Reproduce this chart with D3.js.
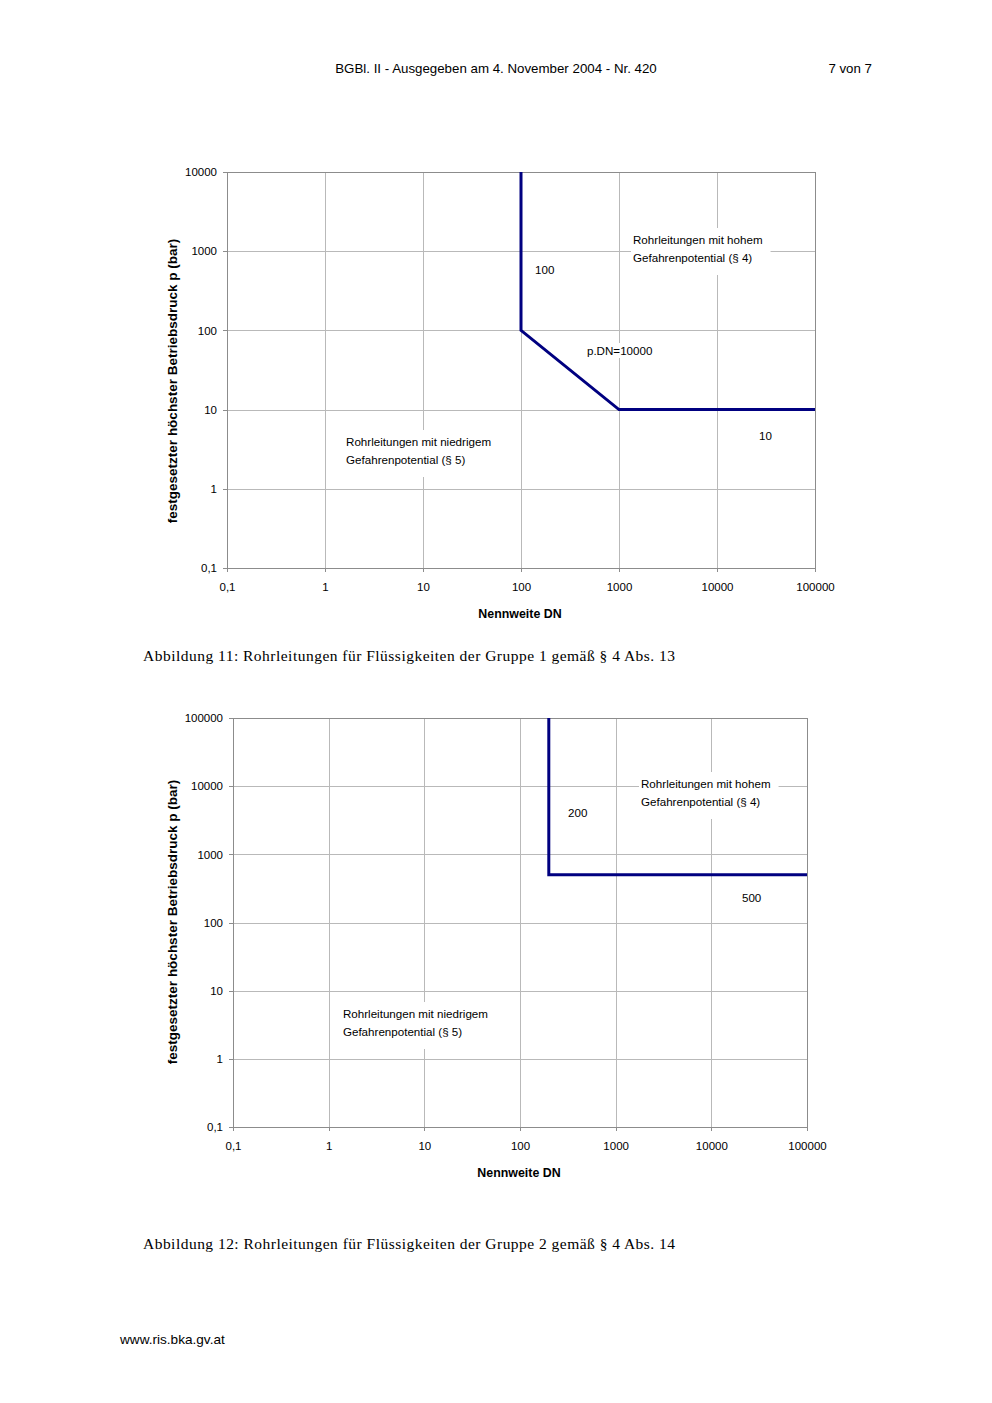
<!DOCTYPE html>
<html>
<head>
<meta charset="utf-8">
<script src="https://cdn.jsdelivr.net/npm/d3@7/dist/d3.min.js"></script>
<style>
  body { margin: 0; background: #fff; }
  svg { display: block; }
  .sans { font-family: "Liberation Sans", Arial, sans-serif; }
  .serif { font-family: "Liberation Serif", "Times New Roman", serif; }
  .axis path, .axis line { stroke: #8c8c8c; shape-rendering: crispEdges; }
  .grid line { stroke: #b9b9b9; shape-rendering: crispEdges; }
  .grid path { stroke: none; }
</style>
</head>
<body>
<script>
// ---- data ----
var dnTicks = [0.1, 1, 10, 100, 1000, 10000, 100000],
    dnTickLabels = ["0,1", "1", "10", "100", "1000", "10000", "100000"];

var pTicks1 = [0.1, 1, 10, 100, 1000, 10000],
    pTickLabels1 = ["0,1", "1", "10", "100", "1000", "10000"],
    limitDN1 = [100, 100, 1000, 100000],
    limitP1 = [10000, 100, 10, 10];

var pTicks2 = [0.1, 1, 10, 100, 1000, 10000, 100000],
    pTickLabels2 = ["0,1", "1", "10", "100", "1000", "10000", "100000"],
    limitDN2 = [200, 200, 100000],
    limitP2 = [100000, 500, 500];

// annotation text, anchored at (dn, p) of the first line's left baseline
var notes1 = [
    { lines: ["100"], dn: 139, p: 515 },
    { lines: ["Rohrleitungen mit hohem", "Gefahrenpotential (§ 4)"], dn: 1390, p: 1233 },
    { lines: ["p.DN=10000"], dn: 471, p: 48.9 },
    { lines: ["10"], dn: 26850, p: 4.13 },
    { lines: ["Rohrleitungen mit niedrigem", "Gefahrenpotential (§ 5)"], dn: 1.64, p: 3.47 }
];
var notes2 = [
    { lines: ["200"], dn: 318, p: 3530 },
    { lines: ["Rohrleitungen mit hohem", "Gefahrenpotential (§ 4)"], dn: 1840, p: 9400 },
    { lines: ["500"], dn: 20900, p: 200 },
    { lines: ["Rohrleitungen mit niedrigem", "Gefahrenpotential (§ 5)"], dn: 1.41, p: 3.97 }
];

var yTitle = "festgesetzter höchster Betriebsdruck p (bar)",
    xTitle = "Nennweite DN";

var svg = d3.select("body").append("svg")
    .attr("width", 992)
    .attr("height", 1403);

// page header / footer
svg.append("text").attr("class", "sans")
    .attr("x", 496).attr("y", 73)
    .attr("text-anchor", "middle").attr("font-size", 13.3)
    .text("BGBl. II - Ausgegeben am 4. November 2004 - Nr. 420");
svg.append("text").attr("class", "sans")
    .attr("x", 872).attr("y", 73)
    .attr("text-anchor", "end").attr("font-size", 13.3)
    .text("7 von 7");
svg.append("text").attr("class", "sans")
    .attr("x", 120).attr("y", 1344)
    .attr("font-size", 13.6)
    .text("www.ris.bka.gv.at");

function drawChart(box, pTicks, pLabels, dn, p, notes, caption) {
    var x = d3.scaleLog().domain([0.1, 100000]).range([box.left, box.right]),
        y = d3.scaleLog().domain([0.1, pTicks[pTicks.length - 1]]).range([box.bottom, box.top]),
        w = box.right - box.left,
        h = box.bottom - box.top,
        g = svg.append("g").attr("class", "sans");

    // gridlines
    g.append("g").attr("class", "grid")
        .attr("transform", "translate(0," + box.bottom + ")")
        .call(d3.axisBottom(x).tickValues(dnTicks).tickSize(-h).tickFormat(""));
    g.append("g").attr("class", "grid")
        .attr("transform", "translate(" + box.left + ",0)")
        .call(d3.axisLeft(y).tickValues(pTicks).tickSize(-w).tickFormat(""));

    // axes
    var xa = g.append("g").attr("class", "axis")
        .attr("transform", "translate(0," + box.bottom + ")")
        .call(d3.axisBottom(x).tickValues(dnTicks).tickSizeInner(4).tickSizeOuter(0)
            .tickPadding(11).tickFormat(function (d, i) { return dnTickLabels[i]; }));
    var ya = g.append("g").attr("class", "axis")
        .attr("transform", "translate(" + box.left + ",0)")
        .call(d3.axisLeft(y).tickValues(pTicks).tickSizeInner(4).tickSizeOuter(0)
            .tickPadding(6).tickFormat(function (d, i) { return pLabels[i]; }));
    xa.selectAll("text").attr("font-size", 11.5).attr("font-family", null).attr("fill", "#000");
    ya.selectAll("text").attr("font-size", 11.5).attr("font-family", null).attr("fill", "#000");
    xa.select(".domain").remove();
    ya.select(".domain").remove();

    // frame
    g.append("rect")
        .attr("x", box.left + 0.5).attr("y", box.top + 0.5)
        .attr("width", w).attr("height", h)
        .attr("fill", "none").attr("stroke", "#8c8c8c");

    // annotations with white backing boxes
    notes.forEach(function (n) {
        var t = g.append("text")
            .attr("x", x(n.dn)).attr("y", y(n.p))
            .attr("font-size", 11.6);
        n.lines.forEach(function (line, i) {
            t.append("tspan").attr("x", x(n.dn)).attr("dy", i ? 18 : 0).text(line);
        });
        var bb = t.node().getBBox(),
            multi = n.lines.length > 1;
        g.insert("rect", function () { return t.node(); })
            .attr("x", bb.x - 2)
            .attr("y", bb.y - (multi ? 5 : 1))
            .attr("width", bb.width + (multi ? 10 : 4))
            .attr("height", bb.height + (multi ? 16 : 2))
            .attr("fill", "#fff");
    });

    // limit line
    var line = d3.line()
        .x(function (d) { return x(d[0]); })
        .y(function (d) { return y(d[1]); });
    g.append("path")
        .datum(dn.map(function (d, i) { return [d, p[i]]; }))
        .attr("d", line)
        .attr("fill", "none")
        .attr("stroke", "#000080")
        .attr("stroke-width", 3)
        .attr("stroke-linejoin", "miter");

    // axis titles
    g.append("text")
        .attr("x", (box.left + box.right) / 2 - 1).attr("y", box.bottom + 50)
        .attr("text-anchor", "middle").attr("font-size", 12.4).attr("font-weight", "bold")
        .text(xTitle);
    g.append("text")
        .attr("transform", "translate(" + 177 + "," + box.yTitleMid + ") rotate(-90)")
        .attr("text-anchor", "middle").attr("font-size", 13.5).attr("font-weight", "bold")
        .text(yTitle);

    // caption
    svg.append("text").attr("class", "serif")
        .attr("x", 143).attr("y", box.captionY)
        .attr("font-size", 15.5)
        .attr("textLength", 532).attr("lengthAdjust", "spacing")
        .text(caption);
}

drawChart({ left: 227, right: 815, top: 172, bottom: 568, yTitleMid: 381, captionY: 661 },
    pTicks1, pTickLabels1, limitDN1, limitP1, notes1,
    "Abbildung 11: Rohrleitungen für Flüssigkeiten der Gruppe 1 gemäß § 4 Abs. 13");

drawChart({ left: 233, right: 807, top: 718, bottom: 1127, yTitleMid: 922, captionY: 1249 },
    pTicks2, pTickLabels2, limitDN2, limitP2, notes2,
    "Abbildung 12: Rohrleitungen für Flüssigkeiten der Gruppe 2 gemäß § 4 Abs. 14");
</script>
</body>
</html>
